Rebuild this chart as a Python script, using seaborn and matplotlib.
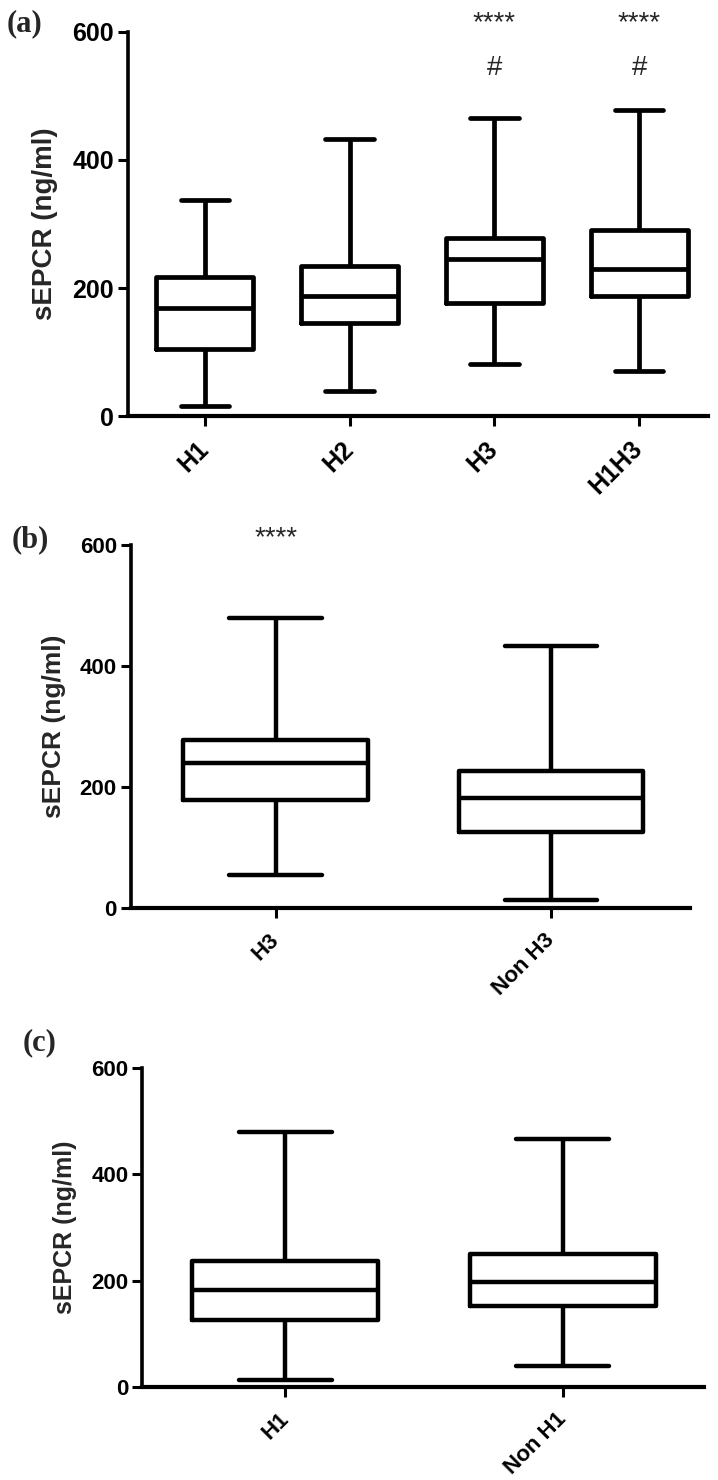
import numpy as np
import pandas as pd
import matplotlib
matplotlib.use("Agg")
import matplotlib.pyplot as plt
import seaborn as sns

# ---- data (five-number summaries: min, q1, median, q3, max)
groups_a = ["H1", "H2", "H3", "H1H3"]
H1_a = [15, 105, 168, 217, 338]
H2_a = [39, 145, 188, 234, 433]
H3_a = [81, 177, 245, 278, 465]
H1H3_a = [70, 188, 230, 290, 478]

groups_b = ["H3", "Non H3"]
H3_b = [54, 178, 239, 277, 480]
NonH3_b = [13, 126, 181, 226, 433]

groups_c = ["H1", "Non H1"]
H1_c = [14, 126, 183, 237, 480]
NonH1_c = [39, 152, 197, 250, 467]

yticks = [0, 200, 400, 600]
ylabel = "sEPCR (ng/ml)"

sig_a = {"H3": ["****", "#"], "H1H3": ["****", "#"]}
sig_b = {"H3": ["****"]}

def long_df(groups, series):
    rows = []
    for g, vals in zip(groups, series):
        for v in vals:
            rows.append({"group": g, "value": v})
    return pd.DataFrame(rows)

df_a = long_df(groups_a, [H1_a, H2_a, H3_a, H1H3_a])
df_b = long_df(groups_b, [H3_b, NonH3_b])
df_c = long_df(groups_c, [H1_c, NonH1_c])

sns.set_theme(style="ticks")
plt.rcParams["font.family"] = ["Liberation Sans", "DejaVu Sans"]

fig = plt.figure(figsize=(7.18, 14.8), dpi=100)
fig.patch.set_facecolor("white")

ax_a = fig.add_axes([0.178, 0.7189, 0.808, 0.2595])
ax_b = fig.add_axes([0.182, 0.3865, 0.779, 0.2453])
ax_c = fig.add_axes([0.198, 0.0628, 0.782, 0.2156])

def draw(ax, df, groups, xlim, tick_fs, lab_fs, lw):
    sns.boxplot(data=df, x="group", y="value", order=groups, ax=ax,
                whis=(0, 100), width=0.67, fill=False, color="black",
                linewidth=lw, showfliers=False)
    ax.set_xlim(*xlim)
    ax.set_ylim(0, 600)
    ax.set_yticks(yticks)
    ax.set_yticklabels([str(t) for t in yticks], fontsize=tick_fs, fontweight="bold")
    ax.set_xlabel("")
    ax.set_ylabel(ylabel, fontsize=lab_fs, fontweight="bold", labelpad=10)
    ax.set_xticks(range(len(groups)))
    ax.set_xticklabels(groups, rotation=45, ha="right", va="center",
                       rotation_mode="anchor", fontsize=tick_fs, fontweight="bold")
    sns.despine(ax=ax)
    ax.spines["left"].set_linewidth(2.6)
    ax.spines["bottom"].set_linewidth(3.0)
    ax.spines["left"].set_color("black")
    ax.spines["bottom"].set_color("black")
    ax.tick_params(axis="both", length=7, width=2.2, color="black", labelcolor="black")
    ax.tick_params(axis="y", pad=3)
    ax.tick_params(axis="x", pad=14)
    ax.set_facecolor("white")

draw(ax_a, df_a, groups_a, (-0.533, 3.476), 18, 20, 3.4)
draw(ax_b, df_b, groups_b, (-0.526, 1.505), 16, 19, 3.2)
draw(ax_c, df_c, groups_c, (-0.516, 1.508), 16, 18, 3.2)

for g, marks in sig_a.items():
    xi = groups_a.index(g)
    ax_a.text(xi, 614, marks[0], ha="center", va="center", fontsize=20, clip_on=False)
    ax_a.text(xi, 544, marks[1], ha="center", va="center", fontsize=20, clip_on=False)
for g, marks in sig_b.items():
    xi = groups_b.index(g)
    ax_b.text(xi, 611, marks[0], ha="center", va="center", fontsize=20, clip_on=False)

serif = ["Liberation Serif", "DejaVu Serif"]
fig.text(7 / 718, 1 - 24 / 1480, "(a)", fontsize=22, fontweight="bold", family=serif, va="center", ha="left")
fig.text(12 / 718, 1 - 540 / 1480, "(b)", fontsize=22, fontweight="bold", family=serif, va="center", ha="left")
fig.text(23 / 718, 1 - 1043 / 1480, "(c)", fontsize=22, fontweight="bold", family=serif, va="center", ha="left")

fig.savefig("out.png", dpi=100, facecolor="white")
